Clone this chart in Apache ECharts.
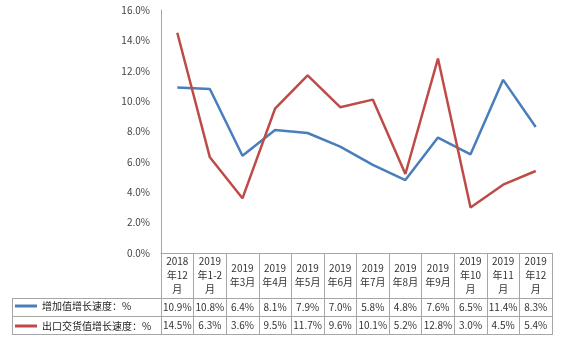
<!DOCTYPE html>
<html>
<head>
<meta charset="utf-8">
<script src="https://cdn.jsdelivr.net/npm/echarts@6/dist/echarts.min.js"></script>
<style>html,body{margin:0;padding:0;background:#fff;}#c{width:570px;height:344px;}</style>
</head>
<body>
<div id="c"></div>
<script>
var categories = ['2018\n年12\n月', '2019\n年1-2\n月', '2019\n年3月', '2019\n年4月', '2019\n年5月', '2019\n年6月', '2019\n年7月', '2019\n年8月', '2019\n年9月', '2019\n年10\n月', '2019\n年11\n月', '2019\n年12\n月'];
var seriesNames = ['增加值增长速度：%', '出口交货值增长速度：%'];
var addedValue = [10.9, 10.8, 6.4, 8.1, 7.9, 7.0, 5.8, 4.8, 7.6, 6.5, 11.4, 8.3];
var exportValue = [14.5, 6.3, 3.6, 9.5, 11.7, 9.6, 10.1, 5.2, 12.8, 3.0, 4.5, 5.4];
var yTicks = [0, 2, 4, 6, 8, 10, 12, 14, 16];

var FONT = '"Noto Sans CJK SC", "Noto Sans", sans-serif';
var GRID_COLOR = '#a6a6a6';
var chart = echarts.init(document.getElementById('c'));
function fmt(v){ return v.toFixed(1) + '%'; }
var option = {
  animation: false,
  textStyle: { fontFamily: FONT },
  grid: { left: 161, right: 18, top: 10, bottom: 91, containLabel: false },
  legend: {
    data: seriesNames,
    orient: 'vertical',
    left: 15, top: 299, padding: 0,
    icon: 'rect',
    itemWidth: 22, itemHeight: 3, itemGap: 6,
    textStyle: { fontFamily: FONT, fontSize: 10, lineHeight: 14, color: '#222' }
  },
  xAxis: [
    {
      type: 'category', data: categories, boundaryGap: true,
      axisLine: { show: true, lineStyle: { color: GRID_COLOR, width: 1 } },
      axisTick: { show: true, length: 82, lineStyle: { color: GRID_COLOR } },
      axisLabel: { interval: 0, fontSize: 10, lineHeight: 14, color: '#333', verticalAlign: 'middle', margin: 22, fontFamily: FONT }
    },
    {
      type: 'category', data: categories, position: 'bottom', offset: 45,
      axisLine: { show: false }, axisTick: { show: false },
      axisLabel: { interval: 0, fontSize: 10, color: '#333', verticalAlign: 'middle', margin: 9, fontFamily: FONT,
        formatter: function(v, i){ return fmt(addedValue[i]); } }
    },
    {
      type: 'category', data: categories, position: 'bottom', offset: 63,
      axisLine: { show: false }, axisTick: { show: false },
      axisLabel: { interval: 0, fontSize: 10, color: '#333', verticalAlign: 'middle', margin: 9.5, fontFamily: FONT,
        formatter: function(v, i){ return fmt(exportValue[i]); } }
    }
  ],
  yAxis: {
    type: 'value', min: yTicks[0], max: yTicks[yTicks.length-1], interval: 2,
    axisLine: { show: true, lineStyle: { color: GRID_COLOR } },
    axisTick: { show: false },
    splitLine: { show: false },
    axisLabel: { fontSize: 10, color: '#444', margin: 11, formatter: function(v){ return fmt(v); }, fontFamily: FONT }
  },
  series: [
    { name: seriesNames[0], type: 'line', data: addedValue, symbol: 'none', lineStyle: { color: '#4A7EBB', width: 2.5 }, itemStyle: { color: '#4A7EBB' } },
    { name: seriesNames[1], type: 'line', data: exportValue, symbol: 'none', lineStyle: { color: '#BE4B48', width: 2.5 }, itemStyle: { color: '#BE4B48' } }
  ],
  graphic: [
    { type: 'line', shape: { x1: 12, y1: 298.5, x2: 552, y2: 298.5 }, style: { stroke: GRID_COLOR, lineWidth: 1 } },
    { type: 'line', shape: { x1: 12, y1: 316.5, x2: 552, y2: 316.5 }, style: { stroke: GRID_COLOR, lineWidth: 1 } },
    { type: 'line', shape: { x1: 12, y1: 334.5, x2: 552, y2: 334.5 }, style: { stroke: GRID_COLOR, lineWidth: 1 } },
    { type: 'line', shape: { x1: 12.5, y1: 298, x2: 12.5, y2: 335 }, style: { stroke: GRID_COLOR, lineWidth: 1 } }
  ]
};
chart.setOption(option);
</script>
</body>
</html>
